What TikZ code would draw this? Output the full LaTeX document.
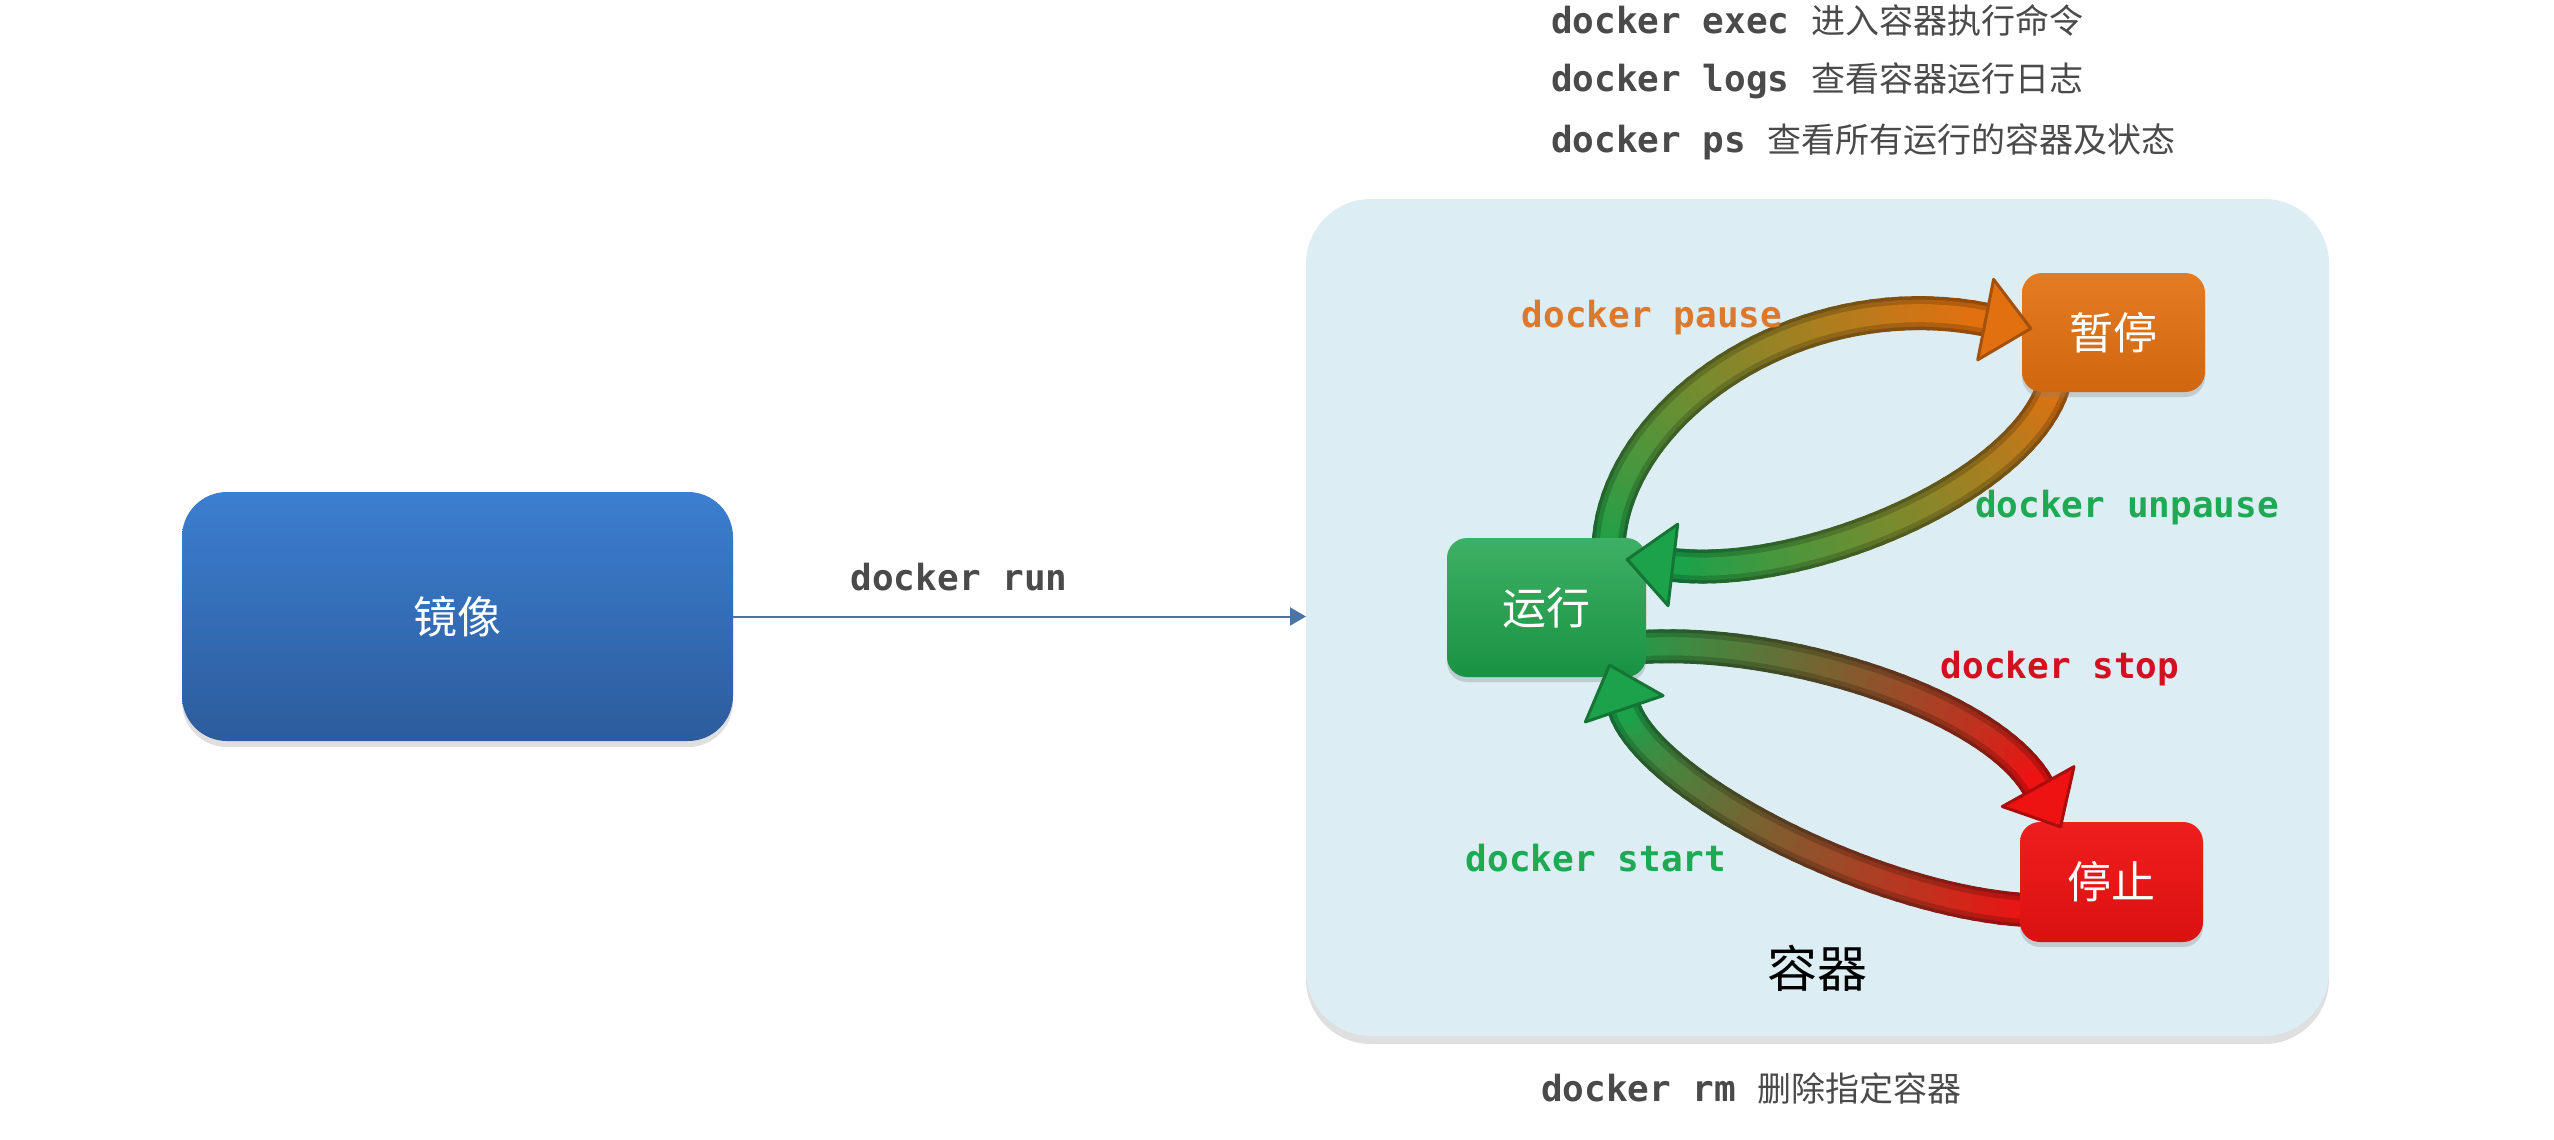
\documentclass[tikz,border=0pt]{standalone}
\usepackage{fontspec}
\setmonofont{DejaVu Sans Mono}
\newfontfamily\cjk{Noto Sans CJK SC}
\usetikzlibrary{calc,arrows.meta,shadows}
\definecolor{cgreen}{HTML}{1CA24A}
\definecolor{corange}{HTML}{E2700F}
\definecolor{cred}{HTML}{EE1212}
\definecolor{contfill}{HTML}{DCEDF4}
\definecolor{txtgray}{HTML}{4A4A4A}
\definecolor{lblorange}{HTML}{DB7A2E}
\definecolor{lblgreen}{HTML}{1DAA52}
\definecolor{lblred}{HTML}{D4101E}
\definecolor{runblue}{HTML}{4A74A8}
\definecolor{imgtop}{HTML}{3C7ED0}
\definecolor{imgbot}{HTML}{2C5C9C}
% shaft: #1 start, #2 c1, #3 c2, #4 tip, #5 start colour, #6 end colour, #7 prefix
\newcommand\gradshaft[7]{%
  \coordinate (#7tip) at #4;
  \coordinate (#7base) at ($(#7tip)!46pt!#3$);
  \foreach \i in {0,...,40}{%
    \pgfmathsetmacro\gpos{\i/40}%
    \path #1 .. controls #2 and #3 .. (#7base) coordinate[pos=\gpos] (#7\i);
  }%
  \foreach \w/\s in {34/66,27/82,18/100}{%
    \foreach \i in {0,...,39}{%
      \pgfmathtruncatemacro\gj{\i+1}%
      \pgfmathtruncatemacro\gp{round(100*\i/39)}%
      \draw[line width=\w pt, line cap=round, color=#6!\gp!#5!\s!black] (#7\i) -- (#7\gj);
    }%
  }%
}
% head: #1 colour, #2 prefix
\newcommand\gradhead[2]{%
  \filldraw[fill=#1, draw=#1!72!black, line width=3pt, line join=round]
    ($(#2base)!41pt!90:(#2tip)$) -- (#2tip) -- ($(#2base)!41pt!-90:(#2tip)$) -- cycle;
}
\begin{document}
\begin{tikzpicture}[x=1pt,y=-1pt,
  mono/.style={font=\ttfamily\bfseries\fontsize{36}{40}\selectfont, inner sep=0pt},
  cmd/.style={mono, text=txtgray, anchor=west},
  lbl/.style={mono},
  state/.style={rounded corners=20pt, inner sep=0pt, outer sep=0pt, text=white,
    font=\cjk\fontsize{44}{44}\selectfont,
    drop shadow={shadow xshift=0pt,shadow yshift=-5pt,opacity=.3}},
]
\fill[white] (0,0) rectangle (2554,1140);
\useasboundingbox (0,0) rectangle (2554,1140);

% top commands
\node[cmd] (exec) at (1551,20) {docker exec {\cjk\mdseries\fontsize{34}{40}\selectfont 进入容器执行命令}};
\node[cmd] (logs) at (1551,81) {docker logs {\cjk\mdseries\fontsize{34}{40}\selectfont 查看容器运行日志}};
\node[cmd] (ps) at (1551,142) {docker ps {\cjk\mdseries\fontsize{34}{40}\selectfont 查看所有运行的容器及状态}};
\node[cmd] (rm) at (1541,1088) {docker rm {\cjk\mdseries\fontsize{34}{40}\selectfont 删除指定容器}};

% image box
\node[rounded corners=45pt, inner sep=0pt, outer sep=0pt, minimum width=551pt, minimum height=249pt,
  top color=imgtop, bottom color=imgbot, text=white, font=\cjk\fontsize{44}{44}\selectfont,
  drop shadow={shadow xshift=0pt,shadow yshift=-6pt,opacity=.25}] (img) at (457.5,616.5) {镜像};

% container
\node[rounded corners=65pt, inner sep=0pt, outer sep=0pt, minimum width=1023pt, minimum height=837pt,
  fill=contfill, drop shadow={shadow xshift=0pt,shadow yshift=-8pt,opacity=.25}] (cont) at (1817.5,617.5) {};
\node[font=\cjk\fontsize{50}{50}\selectfont, inner sep=0pt] (contlbl) at (1817,968) {容器};

% docker run
\draw[runblue, line width=2pt, -{Triangle[length=16pt,width=18pt]}] (img.east) -- (img.east -| cont.west);
\node[lbl, text=txtgray] (runlbl) at (959,577) {docker run};

% state node positions
\path node[inner sep=0pt, minimum width=199pt, minimum height=139pt] (run) at (1546.5,607.5) {}
      node[inner sep=0pt, minimum width=183pt, minimum height=119pt] (pause) at (2113.5,332.5) {}
      node[inner sep=0pt, minimum width=183pt, minimum height=120pt] (stop) at (2111.5,882) {};

% arrow shafts
\gradshaft{([shift={(62,10)}]run.north)}{(1612,415)}{(1795,282)}{([shift={(9,-4)}]pause.west)}{cgreen}{corange}{pa}
\gradshaft{([shift={(-60,-6)}]pause.south)}{(2020,490)}{(1800,580)}{([shift={(-19,-48)}]run.east)}{corange}{cgreen}{up}
\gradshaft{([shift={(-30,42)}]run.east)}{(1760,630)}{(1990,700)}{([shift={(-51,5)}]stop.north)}{cgreen}{cred}{st}
\gradshaft{([shift={(5,28)}]stop.west)}{(1870,900)}{(1650,785)}{([shift={(63,-12)}]run.south)}{cred}{cgreen}{sa}

% state boxes
\node[state, minimum width=199pt, minimum height=139pt, top color=cgreen!85!white, bottom color=cgreen!90!black] (runbox) at (run) {运行};
\node[state, minimum width=183pt, minimum height=119pt, top color=corange!92!white, bottom color=corange!92!black] (pausebox) at (pause) {暂停};
\node[state, minimum width=183pt, minimum height=120pt, top color=cred!95!white, bottom color=cred!92!black] (stopbox) at (stop) {停止};

% arrow heads
\gradhead{corange}{pa}
\gradhead{cgreen}{up}
\gradhead{cred}{st}
\gradhead{cgreen}{sa}

% labels
\node[lbl, text=lblorange] (lpause) at (1652,318) {docker pause};
\node[lbl, text=lblgreen] (lunpause) at (2127,508) {docker unpause};
\node[lbl, text=lblred] (lstop) at (2060,669) {docker stop};
\node[lbl, text=lblgreen] (lstart) at (1596,858) {docker start};
\end{tikzpicture}
\end{document}
